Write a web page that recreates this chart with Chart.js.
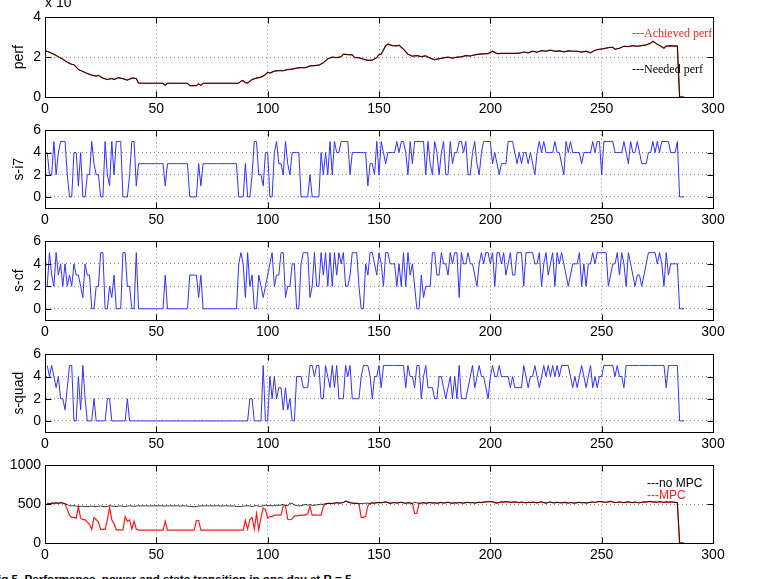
<!DOCTYPE html>
<html>
<head>
<meta charset="utf-8">
<script src="https://cdn.jsdelivr.net/npm/chart.js@4/dist/chart.umd.min.js"></script>
<style>
  html, body { margin:0; padding:0; background:#fff; }
  body { width:769px; height:579px; position:relative; overflow:hidden; font-family:'Liberation Sans', Arial, sans-serif; }
  canvas { position:absolute; left:0; }
  .lbl { position:absolute; white-space:nowrap; line-height:1; }
</style>
</head>
<body>
<canvas id="c1" width="769" height="112" style="top:5px"></canvas>
<canvas id="c2" width="769" height="110" style="top:118px"></canvas>
<canvas id="c3" width="769" height="111" style="top:229px"></canvas>
<canvas id="c4" width="769" height="110" style="top:342px"></canvas>
<canvas id="c5" width="769" height="110" style="top:453px"></canvas>

<div class="lbl" style="left:45px;top:-5px;font-size:14px;color:#000">x 10</div>
<div class="lbl" style="left:632px;top:27px;font-size:12px;font-family:'Liberation Serif','Times New Roman',serif;color:#ff2020">---Achieved perf</div>
<div class="lbl" style="left:632px;top:63px;font-size:12px;font-family:'Liberation Serif','Times New Roman',serif;color:#000">---Needed perf</div>
<div class="lbl" style="left:647px;top:477px;font-size:12px;color:#000">---no MPC</div>
<div class="lbl" style="left:647px;top:489px;font-size:12px;color:#ff2020">---MPC</div>
<div class="lbl" style="left:-9px;top:573px;font-size:11.6px;font-weight:bold;color:#000">Fig 5. Performance, power and state transition in one day at R = 5</div>

<script>
// ---------- data ----------
const xTicks = [0, 50, 100, 150, 200, 250, 300];
const perfTicks = [0, 2, 4];
const stateTicks = [0, 2, 4, 6];
const powerTicks = [0, 500, 1000];

// performance, in units of 10^4
const perfX = [0,2,4,6,8,10,12,13,15,17,19,21,23,24,26,28,30,31,33,35,37,39,41,42,45,50,53,54,55,60,64,65,68,69,70,71,80,87,88,89,90,91,93,95,97,99,100,101,103,105,107,109,111,113,115,117,119,121,123,125,127,129,131,133,134,136,138,139,141,143,145,147,149,150,151,153,154,156,158,159,161,163,165,167,169,171,173,175,177,179,181,183,185,187,189,191,193,195,197,199,201,203,205,210,213,215,217,219,221,223,225,227,229,231,233,235,237,239,241,243,245,247,249,251,253,255,256,258,260,262,264,266,268,270,272,273,275,277,278,279,281,284,285,287];
const perfNeeded = [2.33,2.25,2.15,2.02,1.9,1.75,1.64,1.63,1.38,1.28,1.18,1.1,1.05,1.08,0.95,0.88,0.93,0.88,0.97,0.92,0.85,0.95,0.93,0.7,0.69,0.69,0.69,0.58,0.69,0.69,0.69,0.57,0.57,0.66,0.58,0.69,0.69,0.69,0.8,0.82,0.72,0.7,0.88,0.95,1.0,1.12,1.25,1.2,1.3,1.33,1.32,1.38,1.4,1.45,1.48,1.47,1.56,1.58,1.6,1.72,1.92,2.0,1.98,2.02,2.15,2.13,2.12,1.98,1.98,1.9,1.84,1.85,1.98,2.13,2.15,2.58,2.66,2.58,2.57,2.6,2.4,2.15,2.05,2.08,2.03,2.07,1.95,1.88,1.92,1.97,2.0,1.95,2.0,2.02,2.08,2.06,2.12,2.15,2.17,2.18,2.3,2.18,2.19,2.19,2.2,2.26,2.22,2.3,2.25,2.33,2.3,2.35,2.3,2.32,2.27,2.32,2.3,2.3,2.26,2.3,2.22,2.35,2.4,2.43,2.48,2.5,2.4,2.45,2.55,2.53,2.58,2.55,2.58,2.62,2.7,2.8,2.65,2.52,2.45,2.56,2.57,2.56,0,0];
const perfAchieved = [2.33,2.25,2.15,2.02,1.9,1.75,1.64,1.63,1.38,1.28,1.18,1.1,1.05,1.08,0.95,0.88,0.93,0.88,0.97,0.92,0.85,0.95,0.93,0.7,0.69,0.69,0.69,0.58,0.69,0.69,0.69,0.57,0.57,0.66,0.58,0.69,0.69,0.69,0.8,0.82,0.72,0.7,0.88,0.95,1.0,1.12,1.25,1.2,1.3,1.33,1.32,1.38,1.4,1.45,1.48,1.47,1.56,1.58,1.6,1.72,1.92,2.0,1.98,2.02,2.15,2.13,2.12,1.98,1.98,1.9,1.84,1.85,1.98,2.13,2.15,2.58,2.66,2.58,2.57,2.6,2.4,2.15,2.05,2.08,2.03,2.07,1.95,1.88,1.92,1.97,2.0,1.95,2.0,2.02,2.08,2.06,2.12,2.15,2.17,2.18,2.3,2.18,2.19,2.19,2.2,2.26,2.22,2.3,2.25,2.33,2.3,2.35,2.3,2.32,2.27,2.32,2.3,2.3,2.26,2.3,2.22,2.35,2.4,2.43,2.48,2.5,2.4,2.45,2.55,2.53,2.58,2.55,2.58,2.62,2.7,2.8,2.65,2.52,2.45,2.56,2.57,2.56,0,0];

// states, one value per time step (step 1 .. 287)
const stateI7 = [
4,2,2,5,2,4,5,5,5,2, 0,0,4,4,1,4,0,0,2,2, 5,3,2,2,0,0,5,2,1,5, 2,5,5,5,0,0,0,2,5,5,
1,3,3,3,3,3,3,3,3,3, 3,3,3,1,3,3,3,3,3,3, 3,3,3,3,0,0,0,0,3,1, 3,3,3,3,3,3,3,3,3,3,
3,3,3,3,3,3,0,0,0,3, 0,0,2,5,5,2,2,1,4,4, 0,0,4,5,3,3,2,5,3,2, 4,4,4,4,0,0,0,0,2,0,
0,0,0,4,2,4,2,5,2,5, 4,4,5,5,5,5,2,4,4,4, 4,4,4,4,1,3,3,2,5,2, 5,4,3,4,4,4,4,5,4,5,
5,4,2,5,3,5,5,5,5,5, 2,5,3,2,5,4,2,4,5,2, 2,5,3,4,4,5,5,4,5,2, 2,4,5,3,2,4,5,5,5,5,
3,4,3,2,3,3,3,5,5,5, 4,3,4,3,4,4,3,4,3,2, 4,5,4,5,4,4,4,4,5,4, 4,3,2,5,4,5,4,4,4,4,
3,4,4,4,4,5,4,5,5,2, 5,5,5,5,5,4,4,4,4,5, 4,3,5,4,4,5,4,3,3,3, 4,4,5,4,5,4,5,5,5,5,
4,4,4,5,0,0,0];
const stateCF = [
2,5,3,2,5,3,4,2,4,2, 3,2,4,3,3,2,1,4,3,3, 0,0,2,2,5,5,0,0,2,1, 3,0,0,0,5,5,2,2,0,0,
5,0,0,0,0,0,0,0,0,0, 0,0,0,3,0,0,0,0,0,0, 0,0,0,0,3,3,3,3,1,3, 0,0,0,0,0,0,0,0,0,0,
0,0,0,0,0,0,4,5,4,1, 5,2,3,0,0,3,2,1,2,3, 4,5,2,3,3,5,5,1,2,2, 4,4,0,0,4,5,5,5,1,2,
5,2,2,5,3,5,2,5,2,5, 3,5,4,5,2,2,3,5,5,5, 2,0,0,4,3,5,5,4,3,5, 4,2,5,5,4,4,4,2,4,2,
5,2,5,3,4,2,0,0,3,1, 2,2,2,5,5,3,3,5,4,4, 3,5,4,5,5,1,5,4,4,5, 4,4,3,2,4,5,4,5,5,4,
5,2,5,5,4,5,3,4,5,3, 3,5,5,5,2,5,5,5,5,4, 4,5,2,4,5,3,4,5,2,5, 4,5,4,3,2,3,4,4,4,5,
2,4,2,4,4,5,4,5,5,5, 5,5,2,3,4,4,5,3,5,4, 2,5,4,3,2,3,3,2,3,4, 5,5,5,5,4,5,4,2,5,3,
4,4,4,4,0,0,0];
const stateQuad = [
5,4,5,4,3,4,2,2,1,3, 5,5,0,0,4,1,5,2,0,0, 0,2,0,0,0,0,0,2,2,0, 0,0,0,0,0,0,2,0,0,0,
0,0,0,0,0,0,0,0,0,0, 0,0,0,0,0,0,0,0,0,0, 0,0,0,0,0,0,0,0,0,0, 0,0,0,0,0,0,0,0,0,0,
0,0,0,0,0,0,0,0,0,0, 0,2,2,0,0,0,0,5,0,0, 4,2,4,2,3,3,1,3,1,2, 0,0,4,4,4,3,3,3,5,5,
4,5,5,2,2,5,4,3,5,3, 5,2,2,2,5,4,5,2,2,2, 2,4,5,5,5,4,2,4,4,5, 3,5,5,5,5,5,5,5,5,5,
5,3,5,4,4,3,5,5,2,4, 5,3,3,3,2,2,4,4,3,2, 3,4,2,4,2,5,2,2,2,3, 4,5,3,4,5,4,4,3,2,4,
5,4,4,5,4,4,4,4,3,4, 3,3,3,3,5,4,3,4,4,5, 4,3,4,5,4,5,4,5,4,5, 4,5,5,5,5,4,3,4,3,4,
5,4,3,4,5,3,4,3,4,4, 5,5,5,5,5,4,5,4,4,3, 5,5,5,5,5,5,5,5,5,5, 5,5,5,5,5,5,5,5,3,5,
5,5,5,5,0,0,0];

// power (W), one value per time step
const powerNoMPC = [
510,505,515,512,518,510,520,515,505,495, 480,478,482,476,470,472,475,470,468,472,
475,470,468,472,478,470,466,472,480,476, 472,470,475,478,472,470,475,480,476,472,
478,480,476,478,480,478,476,480,478,480, 478,480,478,476,480,478,480,478,480,478,
476,480,478,476,470,468,468,470,476,478, 480,478,480,478,480,478,480,478,476,478,
480,478,476,478,475,470,468,470,476,478, 480,476,470,478,482,476,472,480,488,480,
485,478,482,488,484,490,496,485,480,515, 510,490,485,478,480,490,496,488,494,486,
488,490,496,500,498,505,510,512,508,514, 520,515,518,522,540,530,520,515,510,512,
505,510,508,515,512,510,518,514,520,522, 518,525,530,520,512,518,522,515,520,525,
518,512,520,515,510,525,518,512,515,520, 512,518,522,515,520,512,518,524,515,520,
525,518,512,520,515,522,518,514,520,525, 518,522,515,520,525,520,528,530,532,535,
530,520,515,522,530,528,532,530,525,528, 530,525,520,528,522,518,525,520,528,522,
518,525,530,520,515,522,528,520,518,525, 520,516,524,520,514,522,518,515,520,525,
518,522,515,520,525,528,522,530,535,532, 528,524,530,536,528,522,525,530,524,520,
526,530,524,520,528,522,518,525,530,528, 532,536,528,530,525,532,528,524,530,526,
530,528,525,520,0,0,0];
const powerMPC = [
510,505,515,512,518,510,520,515,505,430, 360,330,330,320,470,320,300,300,270,240,
175,330,300,270,175,175,175,300,460,300, 250,170,170,170,170,340,280,300,180,280,
180,165,165,165,165,165,165,165,165,165, 165,165,165,280,165,165,165,165,165,165,
165,165,165,165,165,165,165,290,290,165, 165,165,165,165,165,165,165,165,165,165,
165,165,165,165,165,165,165,165,165,290, 180,300,330,180,380,170,330,450,430,320,
340,340,360,360,360,360,480,480,305,300, 310,350,350,355,355,360,360,380,470,360,
360,360,360,360,470,505,510,512,508,514, 520,515,518,522,540,530,520,515,510,512,
505,330,330,340,480,510,518,514,520,522, 518,525,530,520,512,518,522,515,520,525,
518,512,520,515,510,380,380,512,515,520, 512,518,522,515,520,512,518,524,515,520,
525,518,512,520,515,522,518,514,520,525, 518,522,515,520,525,520,528,530,532,535,
530,520,515,522,530,528,532,530,525,528, 530,525,520,528,522,518,525,520,528,522,
518,525,530,520,515,522,528,520,518,525, 520,516,524,520,514,522,518,515,520,525,
518,522,515,520,525,528,522,530,535,532, 528,524,530,536,528,522,525,530,524,520,
526,530,524,520,528,522,518,525,530,528, 532,536,528,530,525,532,528,524,530,526,
530,528,525,520,0,0,0];

// ---------- drawing ----------
const FONT = "'Liberation Sans', Arial, Helvetica, sans-serif";
const stepPts = arr => arr.map((v, i) => ({ x: i + 1, y: v }));
const xyPts = (xs, ys) => xs.map((x, i) => ({ x: x, y: ys[i] }));

const boxPlugin = {
  id: 'matlabBox',
  afterDraw(chart) {
    const { ctx, chartArea: a, scales } = chart;
    const L = Math.round(a.left) + 0.5, R = Math.round(a.right) + 0.5;
    const T = Math.round(a.top) + 0.5, B = Math.round(a.bottom) + 0.5;
    ctx.save();
    ctx.strokeStyle = '#000';
    ctx.lineWidth = 1;
    ctx.setLineDash([]);
    ctx.strokeRect(L, T, R - L, B - T);
    const tl = 6;
    ctx.beginPath();
    scales.x.ticks.forEach(t => {
      const px = Math.round(scales.x.getPixelForValue(t.value)) + 0.5;
      ctx.moveTo(px, B); ctx.lineTo(px, B - tl);
      ctx.moveTo(px, T); ctx.lineTo(px, T + tl);
    });
    scales.y.ticks.forEach(t => {
      const py = Math.round(scales.y.getPixelForValue(t.value)) + 0.5;
      ctx.moveTo(L, py); ctx.lineTo(L + tl, py);
      ctx.moveTo(R, py); ctx.lineTo(R - tl, py);
    });
    ctx.stroke();
    ctx.restore();
  }
};

function makePanel(id, datasets, yMin, yMax, yTicks, yTitle) {
  return new Chart(document.getElementById(id), {
    type: 'line',
    data: { datasets: datasets },
    options: {
      responsive: false,
      animation: false,
      devicePixelRatio: 1,
      events: [],
      layout: { padding: { top: 10, right: 56, bottom: 0, left: 0 } },
      plugins: { legend: { display: false }, tooltip: { enabled: false } },
      elements: { point: { radius: 0 }, line: { tension: 0 } },
      scales: {
        x: {
          type: 'linear', min: 0, max: 300,
          afterBuildTicks: s => { s.ticks = xTicks.map(v => ({ value: v })); },
          afterFit: s => { s.height = 20; },
          ticks: { color: '#000', font: { family: FONT, size: 14 }, padding: 4, maxRotation: 0, autoSkip: false, callback: v => String(v) },
          grid: { color: '#8a8a8a', lineWidth: 1, drawTicks: false },
          border: { display: true, color: '#000', dash: [1, 3] }
        },
        y: {
          type: 'linear', min: yMin, max: yMax,
          afterBuildTicks: s => { s.ticks = yTicks.map(v => ({ value: v })); },
          afterFit: s => { s.width = 45; },
          ticks: { color: '#000', font: { family: FONT, size: 14 }, padding: 4, callback: v => String(v) },
          grid: { color: '#8a8a8a', lineWidth: 1, drawTicks: false },
          border: { display: true, color: '#000', dash: [1, 3] },
          title: { display: !!yTitle, text: yTitle || '', color: '#000', font: { family: FONT, size: 14 }, padding: { top: 11, bottom: 0 } }
        }
      }
    },
    plugins: [boxPlugin]
  });
}

const lineDs = (data, color, width) => ({ data: data, borderColor: color, borderWidth: width, fill: false, pointRadius: 0 });

makePanel('c1', [
  lineDs(xyPts(perfX, perfNeeded), 'rgba(20,0,0,0.85)', 1),
  lineDs(xyPts(perfX, perfAchieved), '#c01818', 1.2)
], 0, 4, perfTicks, 'perf');

makePanel('c2', [lineDs(stepPts(stateI7), '#3030ff', 1)], -1, 6, stateTicks, 's-i7');
makePanel('c3', [lineDs(stepPts(stateCF), '#3030ff', 1)], -1, 6, stateTicks, 's-cf');
makePanel('c4', [lineDs(stepPts(stateQuad), '#3030ff', 1)], -1, 6, stateTicks, 's-quad');

makePanel('c5', [
  lineDs(stepPts(powerNoMPC), 'rgba(0,0,0,0.8)', 1),
  lineDs(stepPts(powerMPC), '#ff1a1a', 1.2)
], 0, 1000, powerTicks, '');
</script>
</body>
</html>
